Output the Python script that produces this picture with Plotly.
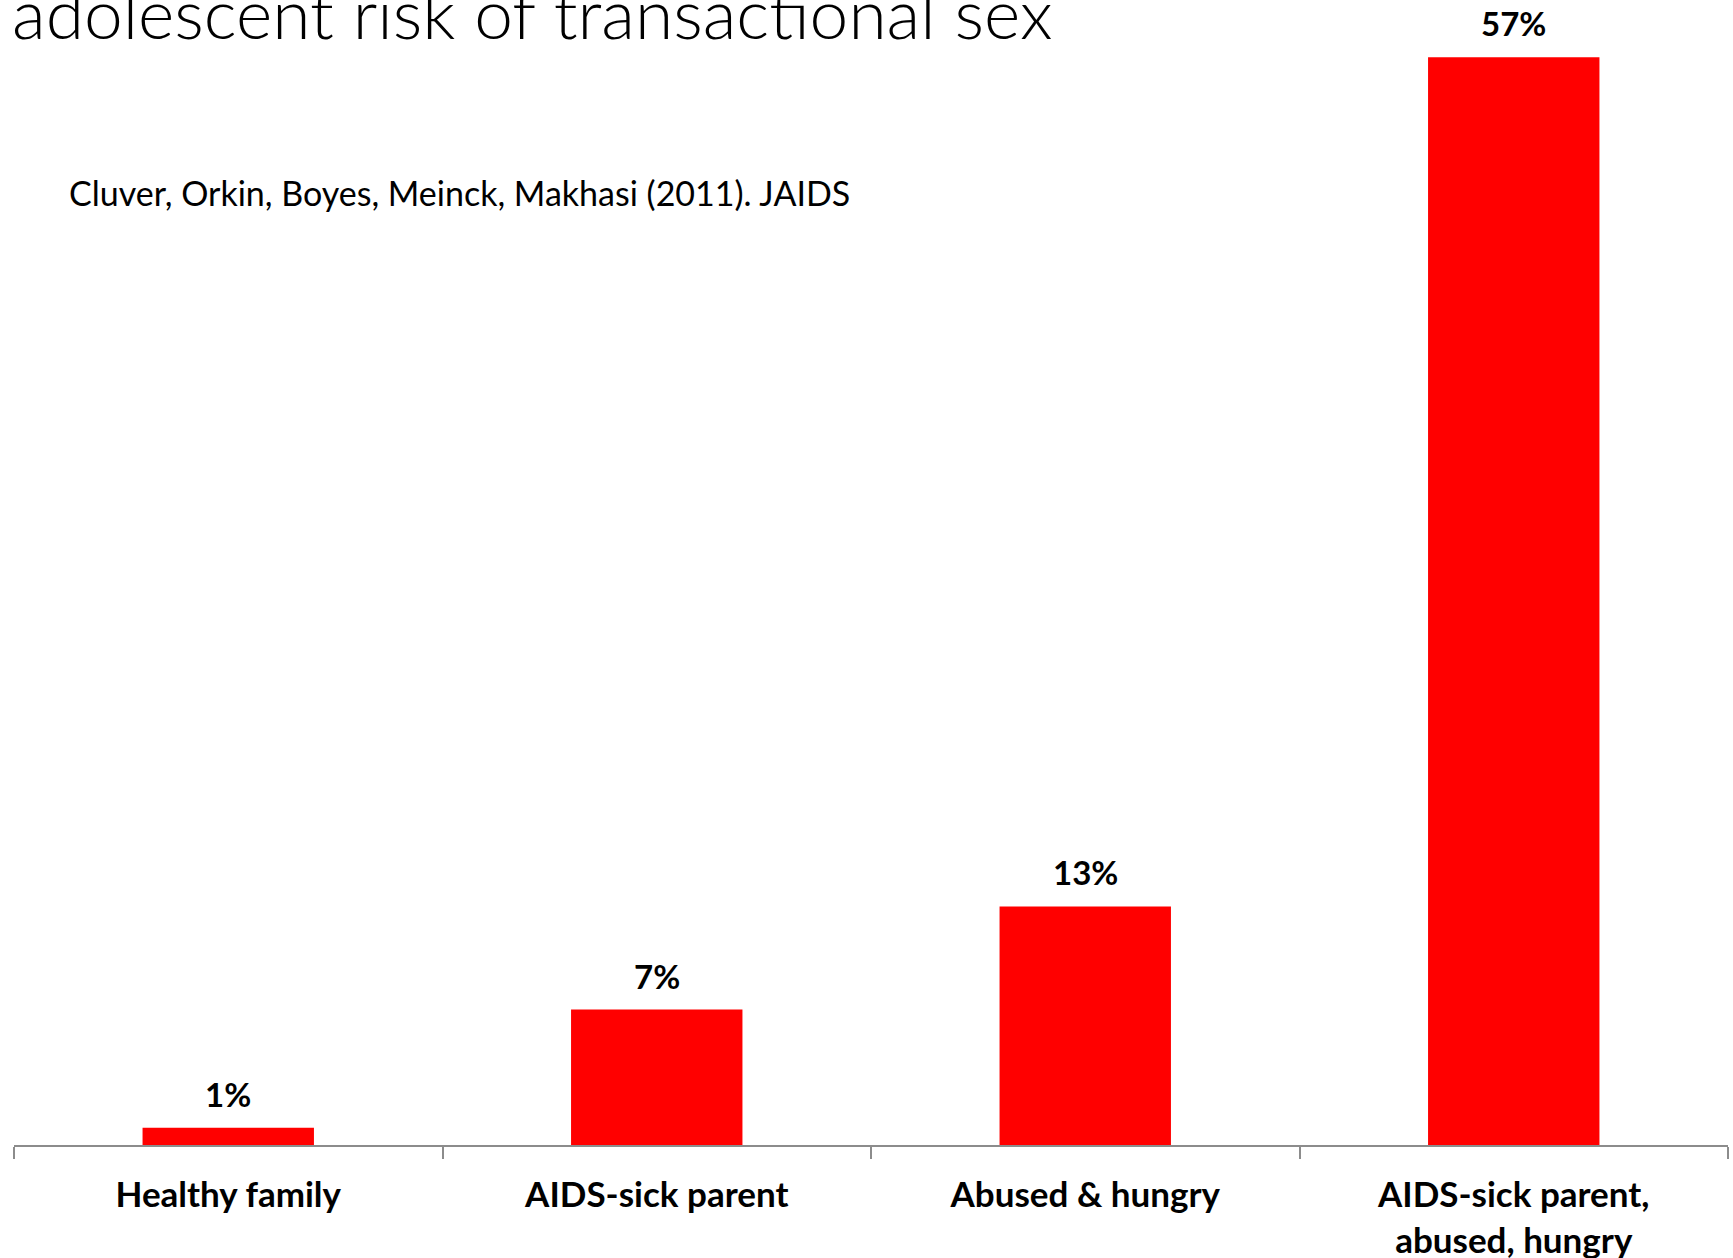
import plotly.graph_objects as go

categories = ["Healthy family", "AIDS-sick parent", "Abused & hungry", "AIDS-sick parent,<br>abused, hungry"]
values = [0.9, 7.1, 12.5, 57.0]
value_labels = ["1%", "7%", "13%", "57%"]

title_text = "adolescent risk of transactional sex"
citation_text = "Cluver, Orkin, Boyes, Meinck, Makhasi (2011). JAIDS"

FONT = "Lato, 'Open Sans', sans-serif"

fig = go.Figure()
fig.add_trace(go.Bar(
    x=categories, y=values,
    marker=dict(color="#FF0000", line=dict(width=0)),
    hoverinfo="skip",
))

for c, v, t in zip(categories, values, value_labels):
    fig.add_annotation(
        x=c, y=v, xref="x", yref="y", text=t, showarrow=False,
        yanchor="bottom", yshift=12,
        font=dict(family=FONT, size=33, color="black", weight="bold"),
    )

fig.add_annotation(
    x=0, y=0.9515, xref="paper", yref="paper", text=title_text, showarrow=False,
    xanchor="left", yanchor="bottom", xshift=-4,
    font=dict(family=FONT, size=69.5, color="black", weight=300),
)
fig.add_annotation(
    x=0.0308, y=0.832, xref="paper", yref="paper", text=citation_text, showarrow=False,
    xanchor="left", yanchor="middle",
    font=dict(family=FONT, size=34, color="black"),
)

fig.update_layout(
    width=1733, height=1258,
    margin=dict(l=14, r=5, t=0, b=113, autoexpand=False),
    paper_bgcolor="white", plot_bgcolor="white",
    bargap=0.6, showlegend=False,
    xaxis=dict(
        automargin=False,
        showline=True, linecolor="#8C8C8C", linewidth=2,
        ticks="outside", tickson="boundaries", ticklen=12, tickwidth=2, tickcolor="#8C8C8C",
        tickfont=dict(family=FONT, size=35, color="black", weight="bold"),
        ticklabelstandoff=18, showgrid=False, zeroline=False,
    ),
    yaxis=dict(range=[0, 60], visible=False, showgrid=False, zeroline=False, automargin=False),
)

fig.write_html("out.html", config={"displayModeBar": False},
               post_script="document.body.style.margin='0px';")
